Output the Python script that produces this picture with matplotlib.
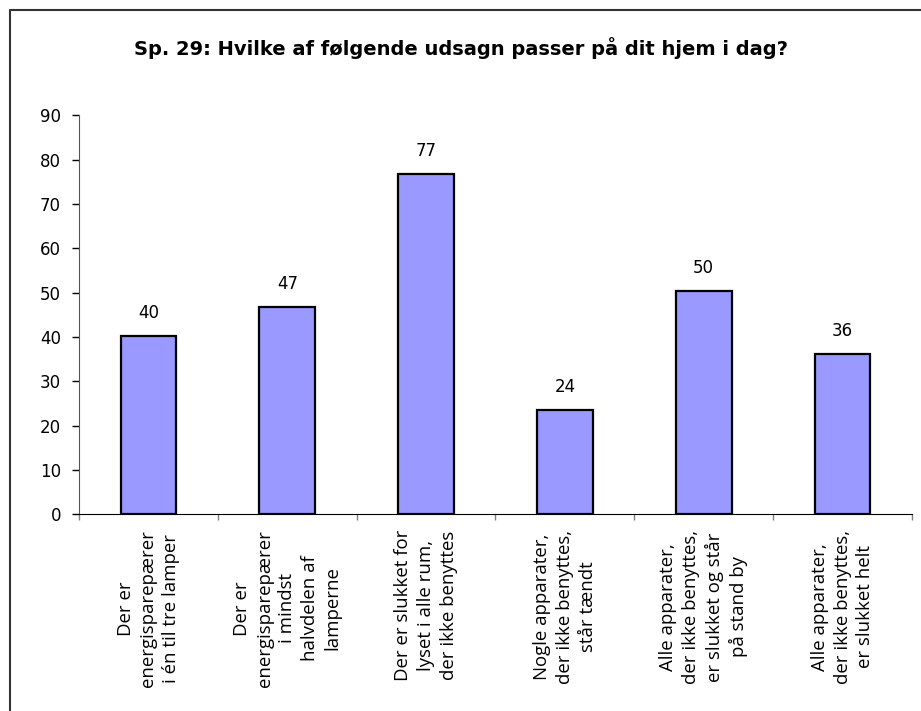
import matplotlib
matplotlib.use("Agg")
import matplotlib.pyplot as plt
from matplotlib.lines import Line2D
import numpy as np

# data
title = "Sp. 29: Hvilke af følgende udsagn passer på dit hjem i dag?"
categories = [
    "Der er\nenergisparepærer\ni én til tre lamper",
    "Der er\nenergisparepærer\ni mindst\nhalvdelen af\nlamperne",
    "Der er slukket for\nlyset i alle rum,\nder ikke benyttes",
    "Nogle apparater,\nder ikke benyttes,\nstår tændt",
    "Alle apparater,\nder ikke benyttes,\ner slukket og står\npå stand by",
    "Alle apparater,\nder ikke benyttes,\ner slukket helt",
]
values = [40.2, 46.8, 76.8, 23.6, 50.4, 36.1]
yticks = [0, 10, 20, 30, 40, 50, 60, 70, 80, 90]

fig = plt.figure(figsize=(9.21, 7.11), dpi=100)
ax = fig.add_axes([0.0858, 0.2764, 0.9044, 0.5614])

x = np.arange(len(categories))
bars = ax.bar(x, values, width=0.4, color="#9999FF", edgecolor="black", linewidth=1.6)

for b, v in zip(bars, values):
    ax.annotate(f"{v:.0f}", (b.get_x() + b.get_width() / 2, v),
                xytext=(0, 10), textcoords="offset points",
                ha="center", va="bottom", fontsize=12, family="DejaVu Sans")

ax.set_xlim(-0.5, len(categories) - 0.5)
ax.set_ylim(0, 90)
ax.set_yticks(yticks)
ax.tick_params(axis="y", direction="out", length=5, width=1, pad=8, labelsize=12)

# category labels at the centres, small tick marks at the boundaries
ax.set_xticks(x)
ax.set_xticklabels(categories, rotation=90, ha="center", va="top",
                   family="Open Sans", fontsize=13.4, linespacing=1.33,
                   multialignment="center")
ax.tick_params(axis="x", which="major", length=0, pad=11)
ax.set_xticks(np.arange(-0.5, len(categories)), minor=True)
ax.tick_params(axis="x", which="minor", direction="out", length=4, width=1, color="#808080")

ax.spines.top.set_visible(False)
ax.spines.right.set_visible(False)
ax.spines.left.set_color("#555555")
ax.spines.bottom.set_color("black")

fig.text(0.5, 0.9325, title, ha="center", va="center",
         fontsize=14, fontweight="bold", family="DejaVu Sans")

# outer chart border (left and top only, the rest is cropped)
bx, by = 10 / 921, 1 - 10 / 711
fig.add_artist(Line2D([bx, bx, 1], [0, by, by], transform=fig.transFigure,
                      color="#333333", linewidth=1.5))

fig.savefig("out.png", dpi=100)
